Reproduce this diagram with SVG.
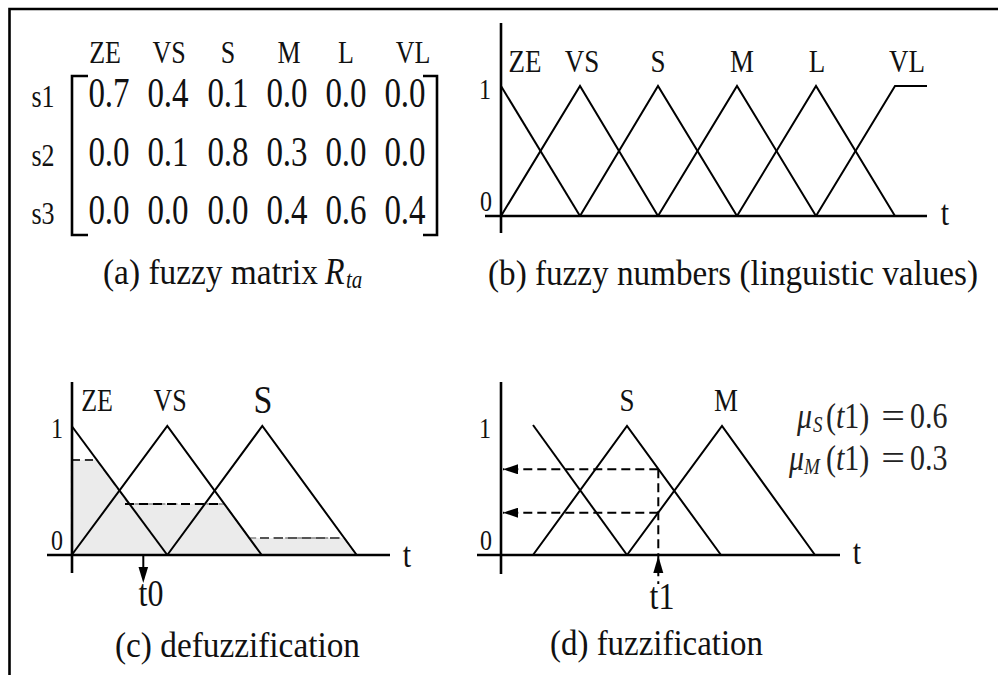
<svg xmlns="http://www.w3.org/2000/svg" width="998" height="675" viewBox="0 0 998 675">
<style>
text{font-family:"Liberation Serif","Times New Roman",serif;fill:#111}
.f26{font-size:26px}.f27{font-size:27px}.f24{font-size:24px}.f30{font-size:30px}.f32{font-size:32px}.f33{font-size:33px}.f34{font-size:34px}
.m{text-anchor:middle}
.it{font-style:italic}
.ax{stroke:#000;stroke-width:2.6;fill:none}
.ln{stroke:#000;stroke-width:2;fill:none;stroke-linejoin:miter}
.br{stroke:#000;stroke-width:2.6;fill:none}
.ds{stroke:#000;stroke-width:2;stroke-dasharray:9 5;fill:none}
.mu{fill:#222}
</style>
<defs>
<marker id="ah" viewBox="0 0 15 10" refX="15" refY="5" markerWidth="15" markerHeight="10" markerUnits="userSpaceOnUse" orient="auto">
<path d="M0,0 L15,5 L0,10 z" fill="#000" stroke="none"/>
</marker>
</defs>
<rect width="998" height="675" fill="#fff"/>
<g id="frame">
<path d="M9.5,675 V9 H998" class="br"/>
</g>
<g id="panel-a">
<g id="a-headers" class="f26">
<text class="m" transform="translate(105,63) scale(1,1.2)">ZE</text>
<text class="m" transform="translate(169,63) scale(1,1.2)">VS</text>
<text class="m" transform="translate(228,63) scale(1,1.2)">S</text>
<text class="m" transform="translate(289,63) scale(1,1.2)">M</text>
<text class="m" transform="translate(346,63) scale(1,1.2)">L</text>
<text class="m" transform="translate(413,63) scale(1,1.2)">VL</text>
</g>
<g id="a-rows" class="f26">
<text class="m" transform="translate(43,107) scale(1,1.2)">s1</text>
<text class="m" transform="translate(43,166) scale(1,1.2)">s2</text>
<text class="m" transform="translate(43,224) scale(1,1.2)">s3</text>
</g>
<g id="a-values" class="f33">
<text class="m" transform="translate(109,107) scale(1,1.25)">0.7</text>
<text class="m" transform="translate(168,107) scale(1,1.25)">0.4</text>
<text class="m" transform="translate(228,107) scale(1,1.25)">0.1</text>
<text class="m" transform="translate(287,107) scale(1,1.25)">0.0</text>
<text class="m" transform="translate(346,107) scale(1,1.25)">0.0</text>
<text class="m" transform="translate(405,107) scale(1,1.25)">0.0</text>
<text class="m" transform="translate(109,166) scale(1,1.25)">0.0</text>
<text class="m" transform="translate(168,166) scale(1,1.25)">0.1</text>
<text class="m" transform="translate(228,166) scale(1,1.25)">0.8</text>
<text class="m" transform="translate(287,166) scale(1,1.25)">0.3</text>
<text class="m" transform="translate(346,166) scale(1,1.25)">0.0</text>
<text class="m" transform="translate(405,166) scale(1,1.25)">0.0</text>
<text class="m" transform="translate(109,224) scale(1,1.25)">0.0</text>
<text class="m" transform="translate(168,224) scale(1,1.25)">0.0</text>
<text class="m" transform="translate(228,224) scale(1,1.25)">0.0</text>
<text class="m" transform="translate(287,224) scale(1,1.25)">0.4</text>
<text class="m" transform="translate(346,224) scale(1,1.25)">0.6</text>
<text class="m" transform="translate(405,224) scale(1,1.25)">0.4</text>
</g>
<g id="a-brackets">
<path d="M88,76 H72 V235 H88" class="br"/>
<path d="M423,76 H437 V235 H423" class="br"/>
</g>
<g id="a-caption" class="f30">
<text transform="translate(103,284) scale(1,1.2)" textLength="215" lengthAdjust="spacingAndGlyphs">(a) fuzzy matrix</text>
<text class="it" style="font-size:32px" transform="translate(325,284) scale(1,1.2)">R</text>
<text class="it" style="font-size:21px" transform="translate(346,288) scale(1,1.2)">ta</text>
</g>
</g>
<g id="panel-b">
<g id="b-axes">
<path d="M501,23 V233" class="ax"/>
<path d="M485,216 H927" class="ax"/>
</g>
<g id="b-curves">
<path d="M501,86 L580,216" class="ln"/>
<path d="M501,216 L580,86 L658,216" class="ln"/>
<path d="M580,216 L658,86 L737,216" class="ln"/>
<path d="M658,216 L737,86 L816,216" class="ln"/>
<path d="M737,216 L816,86 L895,216" class="ln"/>
<path d="M816,216 L895,86 L927,86" class="ln"/>
</g>
<g id="b-labels" class="f27">
<text class="m" transform="translate(525,72) scale(1,1.2)">ZE</text>
<text class="m" transform="translate(582,72) scale(1,1.2)">VS</text>
<text class="m" transform="translate(658,72) scale(1,1.2)">S</text>
<text class="m" transform="translate(742,72) scale(1,1.2)">M</text>
<text class="m" transform="translate(817,72) scale(1,1.2)">L</text>
<text class="m" transform="translate(907,72) scale(1,1.2)">VL</text>
<text class="m f24" transform="translate(485,99) scale(1,1.2)">1</text>
<text class="m f24" transform="translate(486,211) scale(1,1.2)">0</text>
<text class="m f30" transform="translate(945,225) scale(1,1.2)">t</text>
</g>
<g id="b-caption" class="f30">
<text transform="translate(488,285) scale(1,1.2)" textLength="490" lengthAdjust="spacingAndGlyphs">(b) fuzzy numbers (linguistic values)</text>
</g>
</g>
<g id="panel-c">
<g id="c-shade">
<polygon points="71.7,555 71.7,460 96.7,460 129,504 224.4,504 249.3,538 344.3,538 356.7,555" fill="#ebebeb" stroke="#888" stroke-width="1.5" stroke-dasharray="7 5"/>
<path d="M72,460 H97" stroke="#333" stroke-width="2" stroke-dasharray="8 5"/>
<path d="M125,504 H222" class="ds"/>
<path d="M260,538 H345" stroke="#555" stroke-width="2" stroke-dasharray="9 5"/>
</g>
<g id="c-axes">
<path d="M72,382 V573" class="ax"/>
<path d="M47,555 H390" class="ax"/>
</g>
<g id="c-curves">
<path d="M71.7,426 L167.3,555" class="ln"/>
<path d="M71.7,555 L167.3,426 L261.7,555" class="ln"/>
<path d="M167.3,555 L262.3,426 L356.7,555" class="ln"/>
</g>
<g id="c-t0">
<path d="M143.3,555 V569" stroke="#000" stroke-width="2"/>
<polygon points="138.5,567 148.1,567 143.3,583" fill="#000"/>
<text class="m f32" transform="translate(151,606) scale(1,1.2)">t0</text>
</g>
<g id="c-labels">
<text class="m f26" transform="translate(97,411) scale(1,1.2)">ZE</text>
<text class="m f26" transform="translate(170,411) scale(1,1.2)">VS</text>
<text class="m f34" transform="translate(263,413) scale(1,1.2)">S</text>
<text class="m f24" transform="translate(57,438) scale(1,1.2)">1</text>
<text class="m f24" transform="translate(57,550) scale(1,1.2)">0</text>
<text class="m f30" transform="translate(407,567) scale(1,1.2)">t</text>
</g>
<g id="c-caption" class="f30">
<text transform="translate(115,657) scale(1,1.2)" textLength="245" lengthAdjust="spacingAndGlyphs">(c) defuzzification</text>
</g>
</g>
<g id="panel-d">
<g id="d-axes">
<path d="M501,382 V574" class="ax"/>
<path d="M477,555 H840" class="ax"/>
</g>
<g id="d-curves">
<path d="M533,425 L627,555" class="ln"/>
<path d="M533,555 L627,426 L721,555" class="ln"/>
<path d="M627,555 L722,426 L815,555" class="ln"/>
</g>
<g id="d-arrows">
<path d="M658.3,469.3 H503" class="ds" marker-end="url(#ah)"/>
<path d="M658.3,512.7 H503" class="ds" marker-end="url(#ah)"/>
<path d="M658.3,469.3 V584" class="ds"/>
<polygon points="658.3,556 653.3,573 663.3,573" fill="#000"/>
</g>
<g id="d-labels">
<text class="m f27" transform="translate(627,411) scale(1,1.2)">S</text>
<text class="m f27" transform="translate(726,411) scale(1,1.2)">M</text>
<text class="m f24" transform="translate(485,438) scale(1,1.2)">1</text>
<text class="m f24" transform="translate(486,550) scale(1,1.2)">0</text>
<text class="m f30" transform="translate(857,564) scale(1,1.2)">t</text>
<text class="m f32" transform="translate(662,609) scale(1,1.2)">t1</text>
</g>
<g id="d-mu" class="f30">
<text class="it mu" transform="translate(797,428) scale(1,1.2)">μ</text>
<text class="it mu" style="font-size:19px" transform="translate(813,432) scale(1,1.2)">S</text>
<text class="mu" transform="translate(826,428) scale(1,1.2)">(<tspan class="it">t</tspan>1)</text>
<text class="mu m" transform="translate(893,428) scale(1.4,1.2)">=</text>
<text class="mu" transform="translate(910,428) scale(1,1.2)">0.6</text>
<text class="it mu" transform="translate(789,470) scale(1,1.2)">μ</text>
<text class="it mu" style="font-size:19px" transform="translate(804,474) scale(1,1.2)">M</text>
<text class="mu" transform="translate(826,470) scale(1,1.2)">(<tspan class="it">t</tspan>1)</text>
<text class="mu m" transform="translate(893,470) scale(1.4,1.2)">=</text>
<text class="mu" transform="translate(910,470) scale(1,1.2)">0.3</text>
</g>
<g id="d-caption" class="f30">
<text transform="translate(550,655) scale(1,1.2)" textLength="213" lengthAdjust="spacingAndGlyphs">(d) fuzzification</text>
</g>
</g>
</svg>
